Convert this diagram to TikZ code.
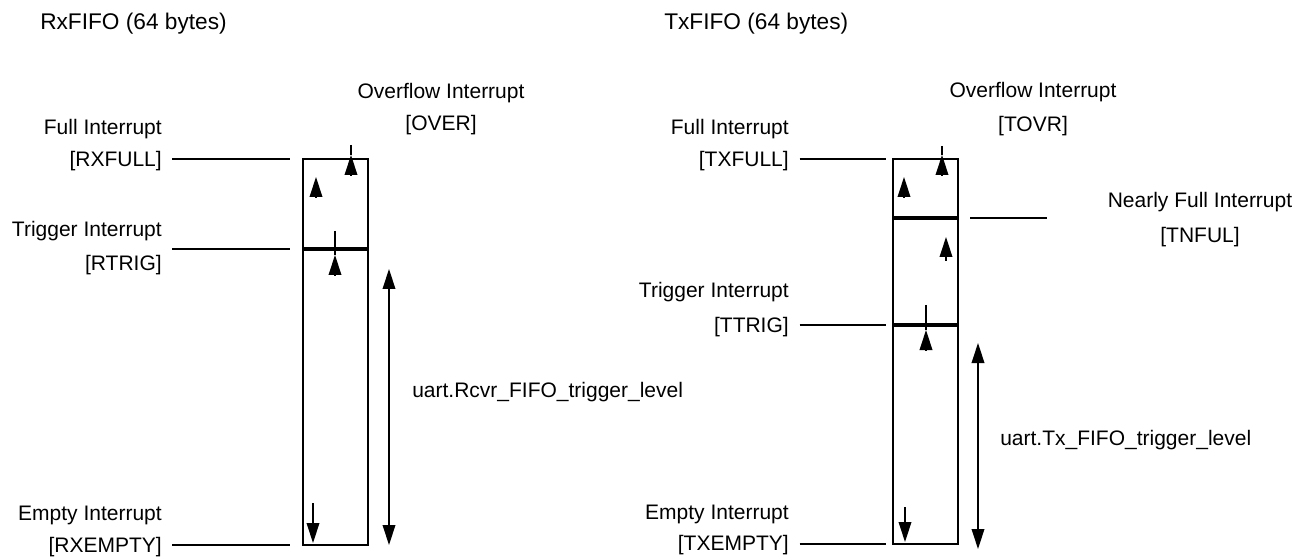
\documentclass[tikz,border=0pt]{standalone}
\usepackage{fontspec}
\setmainfont{Liberation Sans}
\usetikzlibrary{arrows.meta, positioning}

\begin{document}
\begin{tikzpicture}[x=0.75pt, y=-0.75pt,
    every node/.style={font=\fontsize{15.75}{19}\selectfont, inner sep=0pt},
    lbl/.style={anchor=base east},
    ctr/.style={anchor=base},
    title/.style={anchor=base west, font=\fontsize{17}{21}\selectfont},
    fifo/.style={draw, line width=2.1pt},
    level/.style={line width=2.6pt},
    tick/.style={line width=1pt},
    tri/.style={-{Triangle[length=15pt, width=9.5pt]}, line width=1pt},
    dbl/.style={{Triangle[length=15pt, width=9.5pt]}-{Triangle[length=15pt, width=9.5pt]}, line width=1pt}]

\useasboundingbox (0,0) rectangle (1305,559);

% Titles
\node[title] (rxtitle) at (40,30) {RxFIFO (64 bytes)};
\node[title] (txtitle) at (664,30) {TxFIFO (64 bytes)};

% ---------- RxFIFO ----------
\coordinate (rxtl) at (303,159);
\coordinate (rxtr) at (368,159);
\coordinate (rxml) at (303,249);
\coordinate (rxmr) at (368,249);
\coordinate (rxbl) at (303,545);
\coordinate (rxbr) at (368,545);

\draw[fifo] (rxtl) rectangle (rxbr);
\draw[level] (rxml) -- (rxmr);

% Labels
\node[ctr] (rxovtxt) at (441,99) {Overflow Interrupt};
\node[ctr] (rxov) at (441,131) {[OVER]};
\node[lbl] (rxfulltxt) at (162,135) {Full Interrupt};
\node[lbl] (rxfull) at (162,167) {[RXFULL]};
\node[lbl] (rxtrigtxt) at (162,237) {Trigger Interrupt};
\node[lbl] (rxtrig) at (162,271) {[RTRIG]};
\node[lbl] (rxemptytxt) at (162,520) {Empty Interrupt};
\node[lbl] (rxempty) at (162,552) {[RXEMPTY]};
\node[anchor=base west] (rxlevel) at (412,397) {uart.Rcvr\_FIFO\_trigger\_level};

% Leaders
\draw[tick, shorten <=7.5pt, shorten >=9.75pt] (rxfull.east |- rxtl) -- (rxtl);
\draw[tick, shorten <=7.5pt, shorten >=9.75pt] (rxtrig.east |- rxml) -- (rxml);
\draw[tick, shorten <=7.5pt, shorten >=9.75pt] (rxempty.east |- rxbl) -- (rxbl);

% Fill marks
\draw[tick] (351,145) -- (351,155);
\draw[tri] (351,175) -- (351,155);
\draw[tri] (316,198) -- (316,177);
\draw[tick] (335,231) -- (335,255);
\draw[tri] (335,275) -- (335,255);
\draw[tri] (313,503) -- (313,543);
\draw[dbl] (389,269) -- (389,545);

% ---------- TxFIFO ----------
\coordinate (txtl) at (893,159);
\coordinate (txtr) at (958,159);
\coordinate (txnl) at (893,218);
\coordinate (txnr) at (958,218);
\coordinate (txml) at (893,325);
\coordinate (txmr) at (958,325);
\coordinate (txbl) at (893,544);
\coordinate (txbr) at (958,544);
\coordinate (nfulend) at (1047,218);

\draw[fifo] (txtl) rectangle (txbr);
\draw[level] (txnl) -- (txnr);
\draw[level] (txml) -- (txmr);

% Labels
\node[ctr] (txovtxt) at (1033,98) {Overflow Interrupt};
\node[ctr] (txov) at (1033,132) {[TOVR]};
\node[ctr] (txnfultxt) at (1200,208) {Nearly Full Interrupt};
\node[ctr] (txnful) at (1200,243) {[TNFUL]};
\node[lbl] (txfulltxt) at (789,135) {Full Interrupt};
\node[lbl] (txfull) at (789,167) {[TXFULL]};
\node[lbl] (txtrigtxt) at (789,298) {Trigger Interrupt};
\node[lbl] (txtrig) at (789,332) {[TTRIG]};
\node[lbl] (txemptytxt) at (789,519) {Empty Interrupt};
\node[lbl] (txempty) at (789,550) {[TXEMPTY]};
\node[anchor=base west] (txlevel) at (1000,445) {uart.Tx\_FIFO\_trigger\_level};

% Leaders
\draw[tick, shorten <=8pt, shorten >=5.25pt] (txfull.east |- txtl) -- (txtl);
\draw[tick, shorten <=8pt, shorten >=5.25pt] (txtrig.east |- txml) -- (txml);
\draw[tick, shorten <=8pt, shorten >=5.25pt] (txempty.east |- txbl) -- (txbl);
\draw[tick, shorten <=9pt] (txnr) -- (nfulend);

% Fill marks
\draw[tick] (942,146) -- (942,155);
\draw[tri] (942,175) -- (942,155);
\draw[tri] (904,198) -- (904,177);
\draw[tri] (946,261) -- (946,237);
\draw[tick] (926,305) -- (926,330);
\draw[tri] (926,350) -- (926,330);
\draw[tri] (905,507) -- (905,542);
\draw[dbl] (978,343) -- (978,549);

\end{tikzpicture}
\end{document}
